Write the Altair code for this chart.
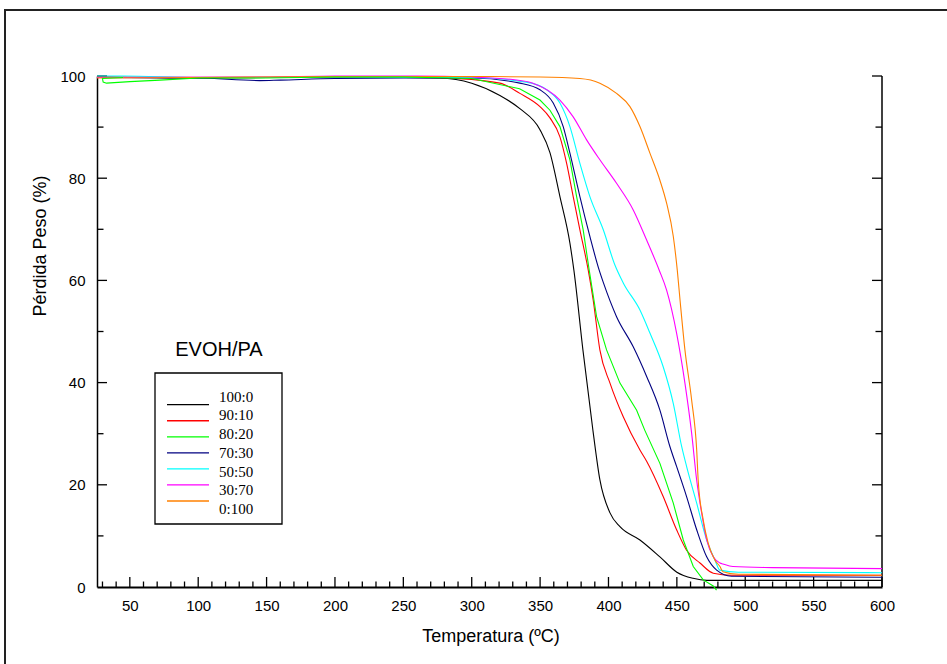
import altair as alt
import pandas as pd

series_names = ["100:0", "90:10", "80:20", "70:30", "50:50", "30:70", "0:100"]
series_colors = ["#000000", "#FF0000", "#00FF00", "#000080", "#00FFFF", "#FF00FF", "#FF8000"]

t_100_0 = [26, 100, 200, 276.7, 300, 320.6, 335.2, 349.9, 357.2, 364.5, 371.8, 374.7, 381.3, 388.6,
           393.7, 401.1, 408.4, 423, 437.6, 450, 461.8, 472, 490, 600]
w_100_0 = [99.8, 99.6, 99.8, 99.6, 98.6, 96.2, 93.6, 89.5, 85, 76.4, 67.3, 62, 46.4, 30.7,
           21, 14.5, 11.8, 9.2, 5.9, 2.9, 1.7, 1.3, 1.3, 1.3]

t_90_10 = [26, 150, 200, 250, 290, 320.6, 335.2, 349.9, 357.2, 364.5, 369.4, 374.2, 379.1, 385.2,
           388.8, 393.7, 401.1, 410.8, 423, 427.9, 440, 449.8, 457.1, 466.9, 476.6, 490, 600]
w_90_10 = [99.8, 99.7, 99.8, 99.8, 99.5, 98.6, 96.6, 94, 91.8, 88.1, 82.9, 76.4, 69.9, 62,
           56.2, 46.4, 39.9, 33.3, 26.8, 24.6, 17.7, 11.2, 7.2, 4.7, 2.7, 2.3, 2.3]

t_80_20 = [45, 30, 30.5, 33, 50, 72, 100, 150, 200, 250, 300, 335, 349.9, 357.2, 364.5, 371.8,
           376.7, 381.5, 385.9, 391.3, 398.6, 408.4, 420.6, 426.5, 437.6, 447.4, 454.7, 462,
           469.3, 476.6, 479]
w_80_20 = [99.7, 99.5, 98.8, 98.6, 98.9, 99.2, 99.6, 99.6, 99.8, 99.8, 99.5, 97.5, 95.3, 93.3,
           90.1, 83.6, 76.4, 69.9, 62, 52.9, 46.4, 39.9, 34.6, 30.7, 24.2, 16.4, 9.2, 4.0,
           1.4, 0.2, -0.6]

t_70_30 = [26, 100, 145, 160, 200, 250, 300, 335.2, 349.9, 359.6, 366.9, 371.8, 379.1, 386.4,
           393.2, 396.2, 405.9, 418.1, 427.9, 437.6, 444.9, 449.8, 457.1, 464.5, 471.8, 479.1,
           490, 600]
w_70_30 = [99.7, 99.6, 99.1, 99.2, 99.5, 99.6, 99.6, 98.6, 97.3, 94.7, 90.1, 84.9, 76.4, 68.6,
           62, 59.6, 52.9, 47, 41.2, 34.6, 27.5, 23.6, 17.7, 11.2, 5.9, 3.3, 2.1, 1.9]

t_50_50 = [26, 45, 100, 200, 300, 340, 354.8, 364.5, 371.8, 379.1, 386.4, 396.2, 404.7, 410.8,
           423, 430.3, 440, 447.4, 453.5, 457.1, 464.5, 471.8, 477.8, 481.5, 495, 600]
w_50_50 = [100, 100, 99.7, 99.8, 99.7, 98.8, 97.3, 94.7, 90.1, 82.9, 76.4, 69.9, 63, 59.5,
           54.2, 49.7, 43.1, 35.9, 27.5, 23.6, 16.4, 9.2, 5.3, 3.3, 2.9, 2.8]

t_30_70 = [26, 150, 200, 260, 300, 330, 344.7, 364.5, 374.2, 384, 393.7, 405.9, 418.1, 427.9,
           437.1, 442.5, 449.8, 455.9, 460.8, 464.5, 468.1, 471.8, 476.6, 481.5, 483.7, 491,
           520, 600]
w_30_70 = [99.7, 99.8, 100, 100, 99.8, 99.3, 98.6, 95.3, 92, 87.5, 83.6, 79, 73.8, 67.9,
           62, 58.1, 49.7, 39.9, 30.1, 20.9, 14.5, 9.2, 5.9, 4.7, 4.5, 4.0, 3.8, 3.6]

t_0_100 = [26, 100, 200, 300, 350, 379.1, 393.7, 405.9, 415.7, 423, 430.3, 437.6, 442.5, 447.4,
           450.3, 452.3, 455.9, 460.8, 464.5, 465.6, 469.3, 472.9, 477.8, 481.5, 483.7, 495, 600]
w_0_100 = [99.6, 99.7, 99.9, 99.9, 99.8, 99.5, 98.6, 96.6, 94, 90.1, 84.9, 79.6, 75.1, 68.6,
           62, 56.2, 46.4, 36.6, 26.8, 20.9, 13.1, 8.6, 5.3, 4.0, 3.0, 2.5, 2.3]

x_labels = [50, 100, 150, 200, 250, 300, 350, 400, 450, 500, 550, 600]
y_labels = [0, 20, 40, 60, 80, 100]
x_minor = [v for v in range(30, 601, 10) if v % 50 != 0]
y_major = [20, 40, 60, 80, 100]
y_minor = [10, 30, 50, 70, 90]

all_t = [t_100_0, t_90_10, t_80_20, t_70_30, t_50_50, t_30_70, t_0_100]
all_w = [w_100_0, w_90_10, w_80_20, w_70_30, w_50_50, w_30_70, w_0_100]
rows = []
for name, ts, ws in zip(series_names, all_t, all_w):
    for i, (t, w) in enumerate(zip(ts, ws)):
        rows.append({"T": t, "W": w, "series": name, "i": i})
df = pd.DataFrame(rows)

W, H = 785, 511
xs = alt.Scale(domain=[26, 600], nice=False, zero=False)
ys = alt.Scale(domain=[0, 100], nice=False)
FONT = "Liberation Sans"

color = alt.Color("series:N", scale=alt.Scale(domain=series_names, range=series_colors), legend=None)

xaxis = alt.Axis(values=x_labels, ticks=False, grid=False, title=None,
                 domainColor="black", domainWidth=2, labelFont=FONT,
                 labelFontSize=15, labelColor="black", labelPadding=11, labelFlush=False)
yaxis = alt.Axis(values=y_labels, ticks=False, grid=False, title=None,
                 domainColor="black", domainWidth=1.5, labelFont=FONT,
                 labelFontSize=15, labelColor="black", labelPadding=12, labelFlush=False)

smooth = alt.Chart(df).transform_filter(alt.datum.series != "80:20").mark_line(
    strokeWidth=1.1, clip=False, interpolate="monotone").encode(
    x=alt.X("T:Q", scale=xs, axis=xaxis),
    y=alt.Y("W:Q", scale=ys, axis=yaxis),
    color=color,
    order="i:Q",
)
green = alt.Chart(df).transform_filter(alt.datum.series == "80:20").mark_line(
    strokeWidth=1.1, clip=False, interpolate="linear").encode(
    x=alt.X("T:Q", scale=xs, axis=xaxis),
    y=alt.Y("W:Q", scale=ys, axis=None),
    color=color,
    order="i:Q",
)

xmaj = alt.Chart(pd.DataFrame({"t": x_labels})).mark_rule(color="black", strokeWidth=1.3).encode(
    x=alt.X("t:Q", scale=xs, axis=xaxis), y=alt.value(H), y2=alt.value(H - 10))
xmin = alt.Chart(pd.DataFrame({"t": x_minor})).mark_rule(color="black", strokeWidth=1.3).encode(
    x=alt.X("t:Q", scale=xs, axis=xaxis), y=alt.value(H), y2=alt.value(H - 5.5))

ymajL = alt.Chart(pd.DataFrame({"v": y_major})).mark_rule(color="black", strokeWidth=1.3).encode(
    y=alt.Y("v:Q", scale=ys, axis=None), x=alt.value(0), x2=alt.value(10))
yminL = alt.Chart(pd.DataFrame({"v": y_minor})).mark_rule(color="black", strokeWidth=1.3).encode(
    y=alt.Y("v:Q", scale=ys, axis=None), x=alt.value(0), x2=alt.value(6.5))
ymajR = alt.Chart(pd.DataFrame({"v": y_major})).mark_rule(color="black", strokeWidth=1.3).encode(
    y=alt.Y("v:Q", scale=ys, axis=None), x=alt.value(W), x2=alt.value(W - 10))
yminR = alt.Chart(pd.DataFrame({"v": y_minor})).mark_rule(color="black", strokeWidth=1.3).encode(
    y=alt.Y("v:Q", scale=ys, axis=None), x=alt.value(W), x2=alt.value(W - 6.5))
right_line = alt.Chart(pd.DataFrame({"v": [0]})).mark_rule(color="black", strokeWidth=1.5).encode(
    x=alt.value(W), y=alt.value(0), y2=alt.value(H))

frame = alt.Chart(pd.DataFrame({"v": [0]})).mark_rect(fill=None, stroke="#222222", strokeWidth=2,
                                                      clip=False).encode(
    x=alt.value(5 - 97), x2=alt.value(1000), y=alt.value(10 - 76), y2=alt.value(800))

xtitle = alt.Chart(pd.DataFrame({"s": ["Temperatura (ºC)"]})).mark_text(
    font=FONT, fontSize=18, color="black", align="center", baseline="middle").encode(
    text="s:N", x=alt.value(491 - 97), y=alt.value(637 - 76))
ytitle = alt.Chart(pd.DataFrame({"s": ["Pérdida Peso (%)"]})).mark_text(
    font=FONT, fontSize=18, color="black", align="center", baseline="middle", angle=270).encode(
    text="s:N", x=alt.value(41 - 97), y=alt.value(246 - 76))

leg_title = alt.Chart(pd.DataFrame({"s": ["EVOH/PA"]})).mark_text(
    font=FONT, fontSize=20, color="black", align="center", baseline="alphabetic").encode(
    text="s:N", x=alt.value(219 - 97), y=alt.value(356 - 76))
leg_box = alt.Chart(pd.DataFrame({"v": [0]})).mark_rect(fill="white", stroke="black",
                                                        strokeWidth=1.3).encode(
    x=alt.value(155 - 97), x2=alt.value(282 - 97), y=alt.value(373 - 76), y2=alt.value(524 - 76))

leg_df = pd.DataFrame({"series": series_names})
leg_y = alt.Y("series:N", scale=alt.Scale(domain=series_names, range=[396.7 - 76, 509 - 76], padding=0),
              axis=None)
leg_lines = alt.Chart(leg_df).mark_rule(strokeWidth=1.3).encode(
    y=leg_y, x=alt.value(167 - 97), x2=alt.value(209 - 97), color=color)
leg_text = alt.Chart(leg_df).mark_text(font="Liberation Serif", fontSize=15, color="black",
                                       align="left", baseline="middle").encode(
    y=leg_y, x=alt.value(219 - 97), text="series:N")

chart = alt.layer(
    frame, xmaj, xmin, ymajL, yminL, ymajR, yminR, right_line, smooth, green,
    xtitle, ytitle, leg_title, leg_box, leg_lines, leg_text
).resolve_scale(y="independent").properties(
    width=W, height=H,
    autosize=alt.AutoSizeParams(type="none"),
    padding={"left": 97, "top": 76, "right": 947 - 97 - W, "bottom": 664 - 76 - H},
    background="white",
).configure_view(stroke=None)

chart.save("out.html", embed_options={"renderer": "svg", "actions": False})
